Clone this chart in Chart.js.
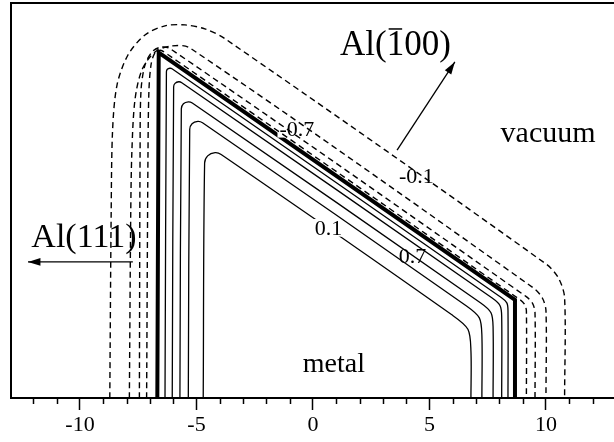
<!DOCTYPE html>
<html>
<head>
<meta charset="utf-8">
<script src="https://cdn.jsdelivr.net/npm/chart.js@4.4.0/dist/chart.umd.min.js"></script>
<style>
html, body { margin: 0; padding: 0; background: #fff; }
</style>
</head>
<body>
<canvas id="contourChart" width="614" height="442"></canvas>
<script>
// tick values of the bottom axis
var majorTicks = [-10, -5, 0, 5, 10];
var minorTicks = [-12, -11, -9, -8, -7, -6, -4, -3, -2, -1, 1, 2, 3, 4, 6, 7, 8, 9, 11, 12];

// crystal edge (thick line)
var edge = [[-6.68, 0], [-6.62, 14.82], [8.67, 4.21], [8.67, 0]];

// negative contours, vacuum side (dashed), inner to outer
var neg1 = [[-7.14, 0], [-7.08, 10.6], [-7.04, 13.2], [-6.95, 14.3], [-6.8, 14.78], [-6.55, 14.92], [-6.2, 14.72], [8.91, 4.2], [9.09, 4.0], [9.16, 3.74], [9.16, 0]];
var neg2 = [[-7.45, 0], [-7.42, 10.6], [-7.38, 13.2], [-7.21, 14.29], [-6.91, 14.85], [-6.55, 15.05], [-6.14, 15.0], [9.14, 4.36], [9.43, 4.05], [9.53, 3.65], [9.53, 0]];
var neg3 = [[-7.88, 0], [-7.82, 8], [-7.77, 10.64], [-7.64, 12.79], [-7.34, 14.08], [-6.78, 14.85], [-6.05, 15.11], [-5.28, 15.02], [9.48, 4.71], [9.85, 4.28], [10.0, 3.75], [10.0, 0]];
var neg4 = [[-8.72, 0], [-8.66, 8], [-8.6, 11.5], [-8.41, 13.43], [-7.94, 14.72], [-7.21, 15.58], [-6.35, 15.97], [-5.49, 16.01], [-4.64, 15.84], [-3.78, 15.42], [10.03, 5.73], [10.55, 5.12], [10.8, 4.3], [10.8, 0]];

// positive contours, metal side (solid), outer to inner
var pos1 = [[-6.35, 0], [-6.29, 14.0], [-6.25, 14.11], [-6.14, 14.15], [-6.05, 14.13], [8.08, 4.31], [8.32, 4.08], [8.37, 3.76], [8.37, 0]];
var pos2 = [[-6.04, 0], [-5.98, 13.35], [-5.92, 13.5], [-5.76, 13.57], [-5.63, 13.53], [7.69, 4.29], [8.03, 3.96], [8.1, 3.5], [8.1, 0]];
var pos3 = [[-5.71, 0], [-5.65, 12.41], [-5.56, 12.63], [-5.35, 12.71], [-5.18, 12.66], [7.2, 4.08], [7.64, 3.66], [7.73, 3.06], [7.73, 0]];
var pos4 = [[-5.35, 0], [-5.29, 11.52], [-5.19, 11.77], [-4.94, 11.87], [-4.74, 11.81], [6.59, 3.95], [7.14, 3.44], [7.25, 2.69], [7.25, 0]];
var pos5 = [[-4.71, 0], [-4.65, 10.08], [-4.52, 10.39], [-4.2, 10.53], [-3.94, 10.45], [5.96, 3.57], [6.65, 2.95], [6.78, 2.02], [6.78, 0]];

// text on the plot: text, x, y (baseline), size, white box behind
var notes = [
    { text: "-0.7", x: -0.69, y: 11.25, size: 22, box: true },
    { text: "-0.1", x: 4.44, y: 9.23, size: 22, box: true },
    { text: "0.1", x: 0.67, y: 7.0, size: 22, box: true },
    { text: "0.7", x: 4.27, y: 5.79, size: 22, box: true },
    { text: "metal", x: 0.9, y: 1.12, size: 28, box: false },
    { text: "vacuum", x: 10.09, y: 10.99, size: 30, box: false },
    { text: "Al(111)", x: -9.83, y: 6.48, size: 34, box: false }
];
var arrows = [
    { from: [-7.73, 5.84], to: [-12.23, 5.84] },
    { from: [3.61, 10.64], to: [6.09, 14.42] }
];

var serif = "'Liberation Serif', 'DejaVu Serif', serif";

function contour(pts, dashed, width, tension) {
    return {
        data: pts.map(function (p) { return { x: p[0], y: p[1] }; }),
        showLine: true,
        pointRadius: 0,
        borderColor: '#000',
        borderWidth: width,
        borderDash: dashed ? [6, 4] : [],
        tension: tension,
        fill: false
    };
}

var datasets = [
    contour(neg1, true, 1.4, 0.3),
    contour(neg2, true, 1.4, 0.3),
    contour(neg3, true, 1.4, 0.3),
    contour(neg4, true, 1.4, 0.3),
    contour(pos1, false, 1.3, 0.3),
    contour(pos2, false, 1.3, 0.3),
    contour(pos3, false, 1.3, 0.3),
    contour(pos4, false, 1.3, 0.3),
    contour(pos5, false, 1.3, 0.3),
    contour(edge, false, 4, 0)
];

function drawNotes(chart) {
    var ctx = chart.ctx, xs = chart.scales.x, ys = chart.scales.y;
    ctx.save();
    ctx.setLineDash([]);
    ctx.fillStyle = '#000';
    ctx.strokeStyle = '#000';
    ctx.textBaseline = 'alphabetic';
    ctx.textAlign = 'center';
    notes.forEach(function (n) {
        ctx.font = n.size + 'px ' + serif;
        var px = xs.getPixelForValue(n.x), py = ys.getPixelForValue(n.y);
        var w = ctx.measureText(n.text).width;
        if (n.box) {
            ctx.fillStyle = '#fff';
            ctx.fillRect(px - w / 2 - 2, py - n.size * 0.72, w + 4, n.size * 0.8);
            ctx.fillStyle = '#000';
        }
        ctx.fillText(n.text, px, py);
    });

    // Al(-100) with the bar over the first digit
    ctx.font = '35px ' + serif;
    ctx.textAlign = 'left';
    var bx = xs.getPixelForValue(1.16), by = ys.getPixelForValue(14.72);
    var w1 = ctx.measureText('Al(').width, w2 = ctx.measureText('1').width;
    ctx.fillText('Al(', bx, by);
    ctx.fillText('1', bx + w1, by);
    ctx.fillText('00)', bx + w1 + w2, by);
    ctx.lineWidth = 1.5;
    ctx.beginPath();
    ctx.moveTo(bx + w1 + 2, by - 26);
    ctx.lineTo(bx + w1 + w2 - 2, by - 26);
    ctx.stroke();

    // arrows
    ctx.lineWidth = 1.3;
    arrows.forEach(function (ar) {
        var x0 = xs.getPixelForValue(ar.from[0]), y0 = ys.getPixelForValue(ar.from[1]);
        var x1 = xs.getPixelForValue(ar.to[0]), y1 = ys.getPixelForValue(ar.to[1]);
        var ang = Math.atan2(y1 - y0, x1 - x0);
        ctx.beginPath();
        ctx.moveTo(x0, y0);
        ctx.lineTo(x1, y1);
        ctx.stroke();
        ctx.beginPath();
        ctx.moveTo(x1, y1);
        ctx.lineTo(x1 - 13 * Math.cos(ang - 0.3), y1 - 13 * Math.sin(ang - 0.3));
        ctx.lineTo(x1 - 13 * Math.cos(ang + 0.3), y1 - 13 * Math.sin(ang + 0.3));
        ctx.closePath();
        ctx.fill();
    });
    ctx.restore();
}

var decor = {
    id: 'decor',
    // labels go in after the thin contours, before the thick edge
    afterDatasetDraw: function (chart, args) {
        if (args.index === 8) drawNotes(chart);
    },
    afterDraw: function (chart) {
        var ctx = chart.ctx, a = chart.chartArea, xs = chart.scales.x;
        ctx.save();
        ctx.strokeStyle = '#000';
        ctx.setLineDash([]);

        // left and top frame
        ctx.lineWidth = 2;
        ctx.beginPath();
        ctx.moveTo(a.left, a.bottom);
        ctx.lineTo(a.left, a.top);
        ctx.lineTo(a.right, a.top);
        ctx.stroke();

        // minor ticks
        ctx.lineWidth = 1.5;
        minorTicks.forEach(function (v) {
            var px = Math.round(xs.getPixelForValue(v)) + 0.5;
            ctx.beginPath();
            ctx.moveTo(px, a.bottom);
            ctx.lineTo(px, a.bottom + 6);
            ctx.stroke();
        });
        ctx.restore();
    }
};

var ctx = document.getElementById('contourChart').getContext('2d');
new Chart(ctx, {
    type: 'scatter',
    data: { datasets: datasets },
    options: {
        responsive: false,
        animation: false,
        layout: { padding: { left: 11, top: 3, right: 0, bottom: 0 } },
        plugins: { legend: { display: false }, tooltip: { enabled: false } },
        scales: {
            x: {
                type: 'linear',
                min: -12.96,
                max: 12.92,
                afterBuildTicks: function (s) {
                    s.ticks = majorTicks.map(function (v) { return { value: v }; });
                },
                afterFit: function (s) { s.height = 44; },
                grid: { drawOnChartArea: false, tickLength: 12, tickWidth: 1.5, tickColor: '#000' },
                border: { display: true, color: '#000', width: 2 },
                ticks: {
                    color: '#000',
                    font: { family: serif, size: 22 },
                    padding: 2,
                    maxRotation: 0,
                    autoSkip: false
                }
            },
            y: { display: false, min: 0, max: 16.95 }
        }
    },
    plugins: [decor]
});
</script>
</body>
</html>
